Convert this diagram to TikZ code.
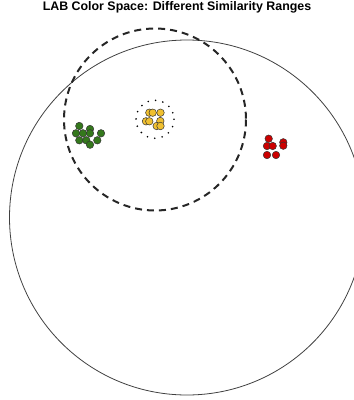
\documentclass[tikz,border=0pt]{standalone}
\usepackage{fontspec}
\setmainfont{Liberation Sans}
\definecolor{ptgreen}{RGB}{52,120,28}
\definecolor{ptyellow}{RGB}{240,192,48}
\definecolor{ptred}{RGB}{204,0,0}
\tikzset{
  pt/.style={circle,draw=black!80,line width=0.5pt,inner sep=0pt,minimum size=7.5pt},
  gpt/.style={pt,fill=ptgreen},
  ypt/.style={pt,fill=ptyellow},
  rpt/.style={pt,fill=ptred},
  bigcirc/.style={draw=black!75,line width=0.8pt},
  midcirc/.style={draw=black!85,line width=2pt,dash pattern=on 7pt off 5pt},
  smallcirc/.style={draw=black,line width=1.8pt,line cap=round,dash pattern=on 0pt off 7.5pt},
  ttl/.style={font=\bfseries\fontsize{12.4}{14}\selectfont}
}
\begin{document}
\begin{tikzpicture}[x=1pt,y=-1pt]
\useasboundingbox (0,0) rectangle (354,400);
\begin{scope}
\clip (0,0) rectangle (354,400);
\draw[bigcirc] (187,217.5) circle[radius=177.5];
\draw[midcirc] (155,119.5) circle[radius=91];
\draw[smallcirc] (155,119.3) circle[radius=19];
\end{scope}
\node[ttl] (title) at (177,7.5) {LAB Color Space: Different Similarity Ranges};
% green cluster
\node[gpt] (g1) at (79.3,126) {};
\node[gpt] (g2) at (76,133.3) {};
\node[gpt] (g3) at (83,133.3) {};
\node[gpt] (g4) at (90,129) {};
\node[gpt] (g5) at (90,133.3) {};
\node[gpt] (g6) at (79.3,140.3) {};
\node[gpt] (g7) at (86.3,140.3) {};
\node[gpt] (g8) at (97.3,140.3) {};
\node[gpt] (g9) at (101,133.3) {};
\node[gpt] (g10) at (90,144.7) {};
% yellow cluster
\node[ypt] (y1) at (149.3,112.7) {};
\node[ypt] (y2) at (152.7,112.7) {};
\node[ypt] (y3) at (160.5,112.7) {};
\node[ypt] (y4) at (146,121.3) {};
\node[ypt] (y5) at (149.3,121.3) {};
\node[ypt] (y6) at (160.3,121) {};
\node[ypt] (y7) at (156.7,126) {};
\node[ypt] (y8) at (160.5,126) {};
% red cluster
\node[rpt] (r1) at (268.7,138.7) {};
\node[rpt] (r2) at (267,146) {};
\node[rpt] (r3) at (272.7,146) {};
\node[rpt] (r4) at (283.3,142.3) {};
\node[rpt] (r5) at (283.3,145.7) {};
\node[rpt] (r6) at (267,155) {};
\node[rpt] (r7) at (276,155) {};
\end{tikzpicture}
\end{document}
